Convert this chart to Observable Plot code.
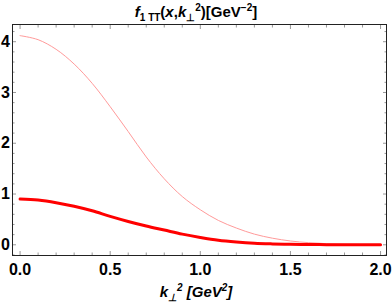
<!DOCTYPE html>
<html><head><meta charset="utf-8">
<script src="https://cdn.jsdelivr.net/npm/d3@7"></script>
<script src="https://cdn.jsdelivr.net/npm/@observablehq/plot@0.6"></script>
<style>
body{margin:0;background:#fff;}
#wrap{position:relative;width:392px;height:304px;font-family:"Liberation Sans",Arial,sans-serif;color:#000;overflow:hidden;}
#chart{position:absolute;left:0;top:0;}
.lbl{position:absolute;left:0;width:392px;text-align:center;font-weight:bold;font-size:15px;line-height:1;white-space:nowrap;}
.lbl sub,.lbl sup{font-size:10px;line-height:0;}
#title{top:4px;}
#xlabel{top:284px;font-style:italic;}
</style></head><body>
<div id="wrap">
<div id="chart"></div>
<div id="title" class="lbl"><i>f</i><sub>1 TT</sub>(<i>x</i>,<i>k</i><sub>⊥</sub><sup>2</sup>)[GeV<sup>−2</sup>]</div>
<div id="xlabel" class="lbl"><i>k</i><sub>⊥</sub><sup>2</sup> [GeV<sup>2</sup>]</div>
</div>
<script>
const kValues = [0, 0.1, 0.2, 0.3, 0.4, 0.5, 0.6, 0.7, 0.8, 0.9, 1.0, 1.1, 1.2, 1.3, 1.4, 1.5, 1.6, 1.7, 1.8, 1.9, 2.0];
const thinValues = [4.12, 4.04, 3.85, 3.56, 3.18, 2.72, 2.23, 1.73, 1.30, 0.95, 0.69, 0.48, 0.33, 0.21, 0.13, 0.075, 0.042, 0.022, 0.011, 0.005, 0.002];
const thickValues = [0.90, 0.88, 0.83, 0.76, 0.67, 0.56, 0.46, 0.37, 0.29, 0.21, 0.145, 0.09, 0.055, 0.03, 0.017, 0.009, 0.005, 0.003, 0.001, 0.0005, 0.0002];
const xTicks = [0, 0.5, 1, 1.5, 2];
const xTickLabels = ["0.0", "0.5", "1.0", "1.5", "2.0"];
const yTicks = [0, 1, 2, 3, 4];
const yTickLabels = ["0", "1", "2", "3", "4"];

const data = kValues.map((k, i) => ({k, thin: thinValues[i], thick: thickValues[i]}));
const xMinor = d3.range(0, 21).map(i => i / 10).filter(v => !xTicks.includes(v));
const yMinor = d3.range(-1, 22).map(i => i / 5).filter(v => !yTicks.includes(v));
const tickColor = "#999";
const none = () => "";

const chart = Plot.plot({
  width: 392, height: 304,
  marginLeft: 12, marginRight: 6, marginTop: 24, marginBottom: 49,
  x: {domain: [-0.042, 2.033], label: null},
  y: {domain: [-0.211, 4.339], label: null},
  style: {fontFamily: "Liberation Sans, Arial, sans-serif", fontSize: "16px", fontWeight: "bold", color: "#000", background: "#fff"},
  marks: [
    Plot.axisX(xTicks, {anchor: "bottom", tickSize: -4, tickFormat: none, stroke: tickColor, label: null}),
    Plot.axisX(xMinor, {anchor: "bottom", tickSize: -2.5, tickFormat: none, stroke: tickColor, label: null}),
    Plot.axisX(xTicks, {anchor: "top", tickSize: -4, tickFormat: none, stroke: tickColor, label: null}),
    Plot.axisX(xMinor, {anchor: "top", tickSize: -2.5, tickFormat: none, stroke: tickColor, label: null}),
    Plot.axisY(yTicks, {anchor: "left", tickSize: -4, tickFormat: none, stroke: tickColor, label: null}),
    Plot.axisY(yMinor, {anchor: "left", tickSize: -2.5, tickFormat: none, stroke: tickColor, label: null}),
    Plot.axisY(yTicks, {anchor: "right", tickSize: -4, tickFormat: none, stroke: tickColor, label: null}),
    Plot.axisY(yMinor, {anchor: "right", tickSize: -2.5, tickFormat: none, stroke: tickColor, label: null}),
    Plot.axisX(xTicks, {anchor: "bottom", tickSize: 0, tickPadding: 8, tickFormat: (d, i) => xTickLabels[i], fill: "#000", label: null}),
    Plot.axisY(yTicks, {anchor: "left", tickSize: 0, tickPadding: 2.5, tickFormat: (d, i) => yTickLabels[i], fill: "#000", label: null}),
    Plot.line(data, {x: "k", y: "thin", stroke: "#ff9a9a", strokeWidth: 1, curve: "catmull-rom"}),
    Plot.line(data, {x: "k", y: "thick", stroke: "#ff0000", strokeWidth: 3, curve: "catmull-rom"}),
    Plot.frame({stroke: "#222", strokeWidth: 1})
  ]
});
document.getElementById("chart").appendChild(chart);
</script>
</body></html>
